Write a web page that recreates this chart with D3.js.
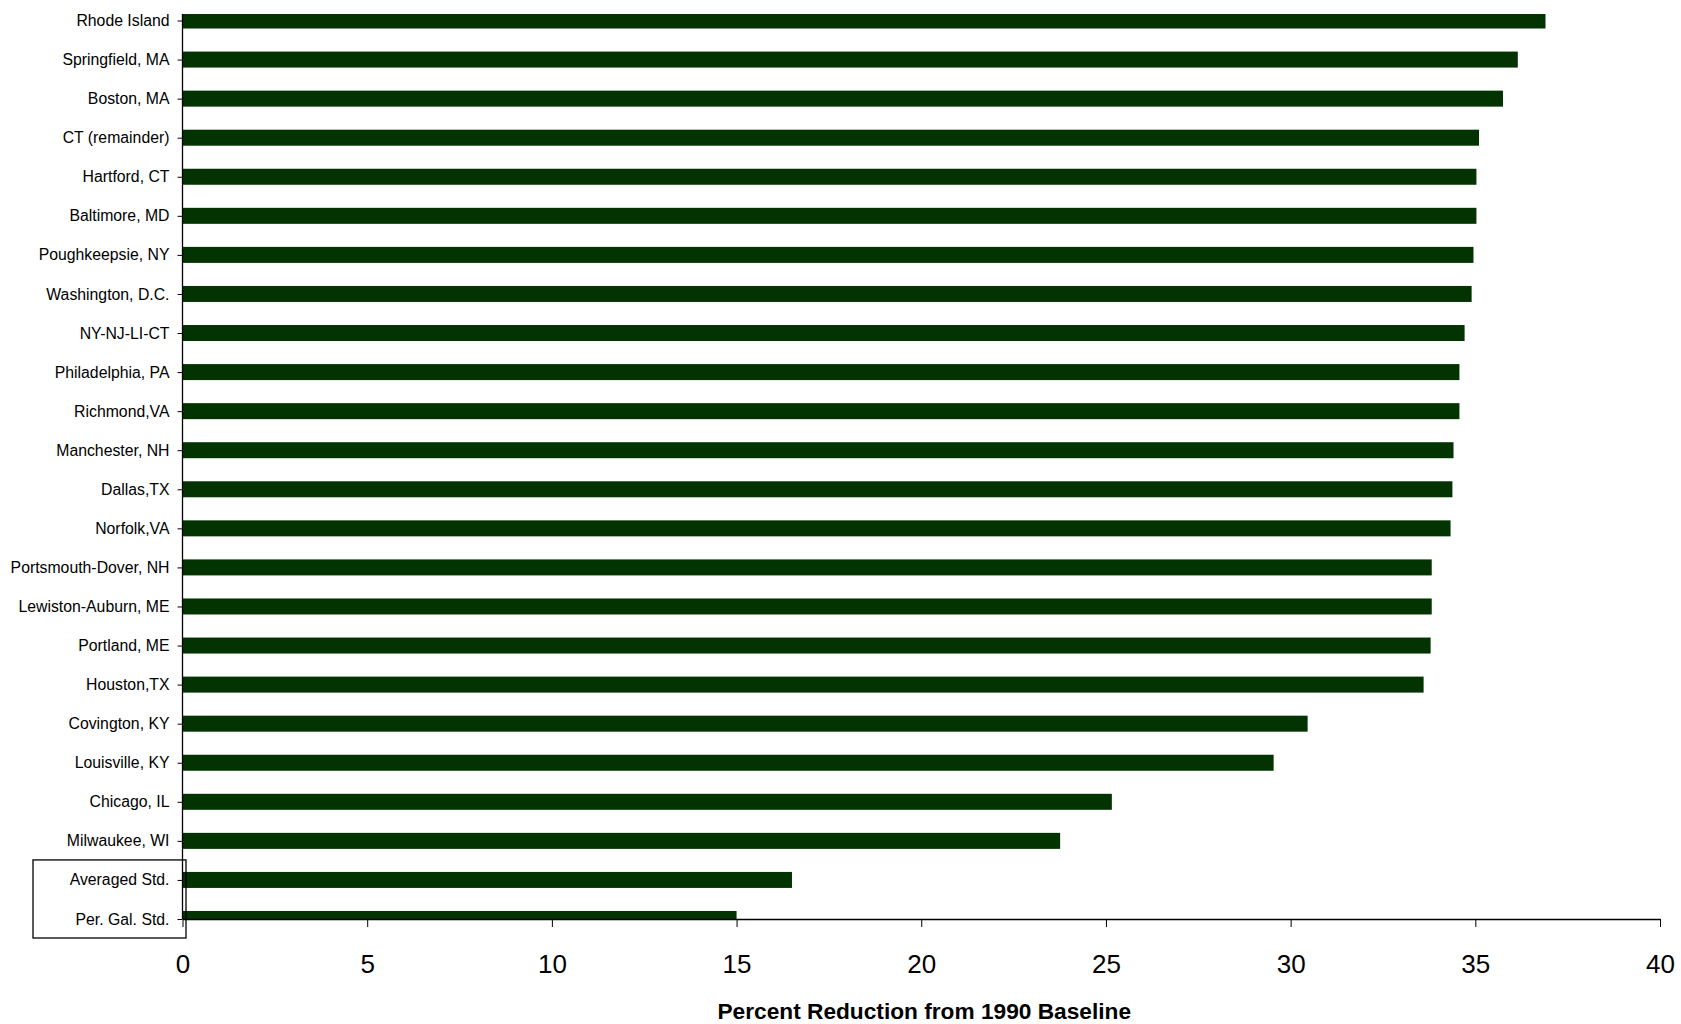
<!DOCTYPE html>
<html>
<head>
<meta charset="utf-8">
<script src="https://cdn.jsdelivr.net/npm/d3@7"></script>
<style>
  html, body { margin: 0; padding: 0; background: #fff; }
  svg { display: block; }
</style>
</head>
<body>
<script>
// Percent reduction from 1990 baseline, by area (horizontal bars).

// ---------------------------------------------------------------------------
// Data
// ---------------------------------------------------------------------------

const AREAS = [
  "Rhode Island", "Springfield, MA", "Boston, MA", "CT (remainder)", "Hartford, CT",
  "Baltimore, MD", "Poughkeepsie, NY", "Washington, D.C.", "NY-NJ-LI-CT", "Philadelphia, PA",
  "Richmond,VA", "Manchester, NH", "Dallas,TX", "Norfolk,VA", "Portsmouth-Dover, NH",
  "Lewiston-Auburn, ME", "Portland, ME", "Houston,TX", "Covington, KY", "Louisville, KY",
  "Chicago, IL", "Milwaukee, WI", "Averaged Std.", "Per. Gal. Std."
];
const REDUCTION = [
  36.9, 36.15, 35.75, 35.1, 35.03,
  35.03, 34.95, 34.9, 34.71, 34.57,
  34.57, 34.41, 34.38, 34.33, 33.82,
  33.82, 33.79, 33.6, 30.46, 29.54,
  25.16, 23.76, 16.5, 15.0
];
const X_TICKS = [0, 5, 10, 15, 20, 25, 30, 35, 40];
const BOXED = ["Averaged Std.", "Per. Gal. Std."];
const X_TITLE = "Percent Reduction from 1990 Baseline";

// ---------------------------------------------------------------------------
// Layout
// ---------------------------------------------------------------------------

const width = 1681;
const height = 1024;
const plot = { left: 182.5, right: 1660, top: 14, bottom: 919 };
const barH = 16;
const BAR_COLOR = "#033300";
const FONT = "Arial, 'Liberation Sans', Helvetica, sans-serif";

const svg = d3.select("body")
  .append("svg")
  .attr("width", width)
  .attr("height", height)
  .attr("font-family", FONT);

svg.append("rect").attr("width", width).attr("height", height).attr("fill", "#fff");

const x = d3.scaleLinear().domain([0, 40]).range([plot.left, plot.right]);
const y = d3.scalePoint().domain(AREAS).range([20.5, plot.bottom]);

// Bars are clipped to the plot area (first and last bars get cut, like the original).
svg.append("clipPath").attr("id", "plot-clip")
  .append("rect")
  .attr("x", plot.left)
  .attr("y", plot.top)
  .attr("width", plot.right - plot.left)
  .attr("height", plot.bottom - plot.top);

const rows = AREAS.map((name, i) => ({ name, value: REDUCTION[i] }));

svg.append("g")
  .attr("clip-path", "url(#plot-clip)")
  .selectAll("rect")
  .data(rows)
  .join("rect")
  .attr("x", x(0))
  .attr("y", (d) => y(d.name) - barH / 2)
  .attr("width", (d) => x(d.value) - x(0))
  .attr("height", barH)
  .attr("fill", BAR_COLOR);

// ---------------------------------------------------------------------------
// Axes
// ---------------------------------------------------------------------------

const yAxis = svg.append("g")
  .attr("transform", `translate(${plot.left},0)`)
  .call(d3.axisLeft(y).tickSize(5).tickPadding(8));
yAxis.select(".domain").remove();
yAxis.selectAll("line").attr("stroke", "#000");
yAxis.selectAll("text")
  .attr("font-size", 15.8)
  .attr("font-family", FONT)
  .attr("fill", "#000");

svg.append("line")
  .attr("x1", plot.left).attr("x2", plot.left)
  .attr("y1", plot.top).attr("y2", plot.bottom)
  .attr("stroke", "#000")
  .attr("stroke-width", 1.3);

const xAxis = svg.append("g")
  .attr("transform", `translate(0,${plot.bottom})`)
  .call(d3.axisBottom(x).tickValues(X_TICKS).tickSize(8).tickSizeOuter(0).tickPadding(27.5));
xAxis.select(".domain").attr("stroke", "#000").attr("stroke-width", 1.3);
xAxis.selectAll("line").attr("stroke", "#000");
xAxis.selectAll("text")
  .attr("font-size", 26)
  .attr("font-family", FONT)
  .attr("fill", "#000");

svg.append("text")
  .attr("x", (plot.left + plot.right) / 2 + 3)
  .attr("y", 1019)
  .attr("text-anchor", "middle")
  .attr("font-size", 22.7)
  .attr("font-weight", "bold")
  .attr("fill", "#000")
  .text(X_TITLE);

// Box round the two standard rows.
const boxTop = y(BOXED[0]) - 20;
svg.append("rect")
  .attr("x", 33)
  .attr("y", boxTop)
  .attr("width", x(0) + 3.5 - 33)
  .attr("height", plot.bottom + 19 - boxTop)
  .attr("fill", "none")
  .attr("stroke", "#000")
  .attr("stroke-width", 1.3);
</script>
</body>
</html>
